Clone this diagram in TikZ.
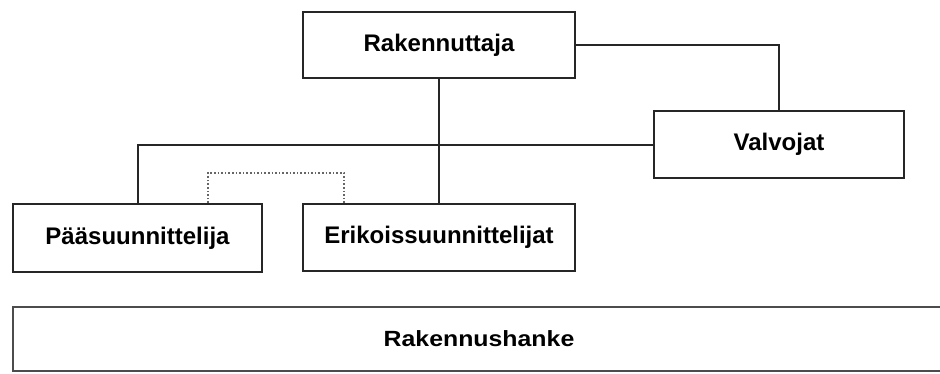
\documentclass[tikz,border=0pt]{standalone}
\usepackage{graphicx}
\usepackage{fontspec}
\setmainfont{Liberation Sans}
\begin{document}
\begin{tikzpicture}[
    x=1pt, y=-1pt,
    line width=2pt,
    box/.style={rectangle, draw=black!85, line width=2pt, inner sep=0pt, align=center, font=\fontsize{24}{28}\selectfont\bfseries},
    bigbox/.style={rectangle, draw=black!70, line width=2pt, inner sep=0pt, font=\fontsize{22}{26}\selectfont\bfseries}
]
\useasboundingbox (0,0) rectangle (940,373);

% Top level
\node[box, minimum width=272pt, minimum height=66pt] (rak) at (439,45) {Rakennuttaja};
\node[box, minimum width=250pt, minimum height=67pt] (valv) at (779,144.5) {Valvojat};

% Designers
\node[box, minimum width=249pt, minimum height=68pt] (paa) at (137.5,238) {Pääsuunnittelija};
\node[box, minimum width=272pt, minimum height=67pt] (erik) at (439,237.5) {Erikoissuunnittelijat};

% Project
\node[bigbox, minimum width=932pt, minimum height=64pt] (hanke) at (479,339) {\scalebox{1.13}[1]{Rakennushanke}};

% Connections
\draw[black!85] (rak.east) -| (valv.north);
\draw[black!85] (rak.south) -- (erik.north);
\draw[black!85] (valv.west) -| (paa.north);
\draw[black!60, dotted, line width=1.6pt] ([xshift=70.5pt]paa.north) -- ++(0,-30) -| ([xshift=-95pt]erik.north);
\end{tikzpicture}
\end{document}
